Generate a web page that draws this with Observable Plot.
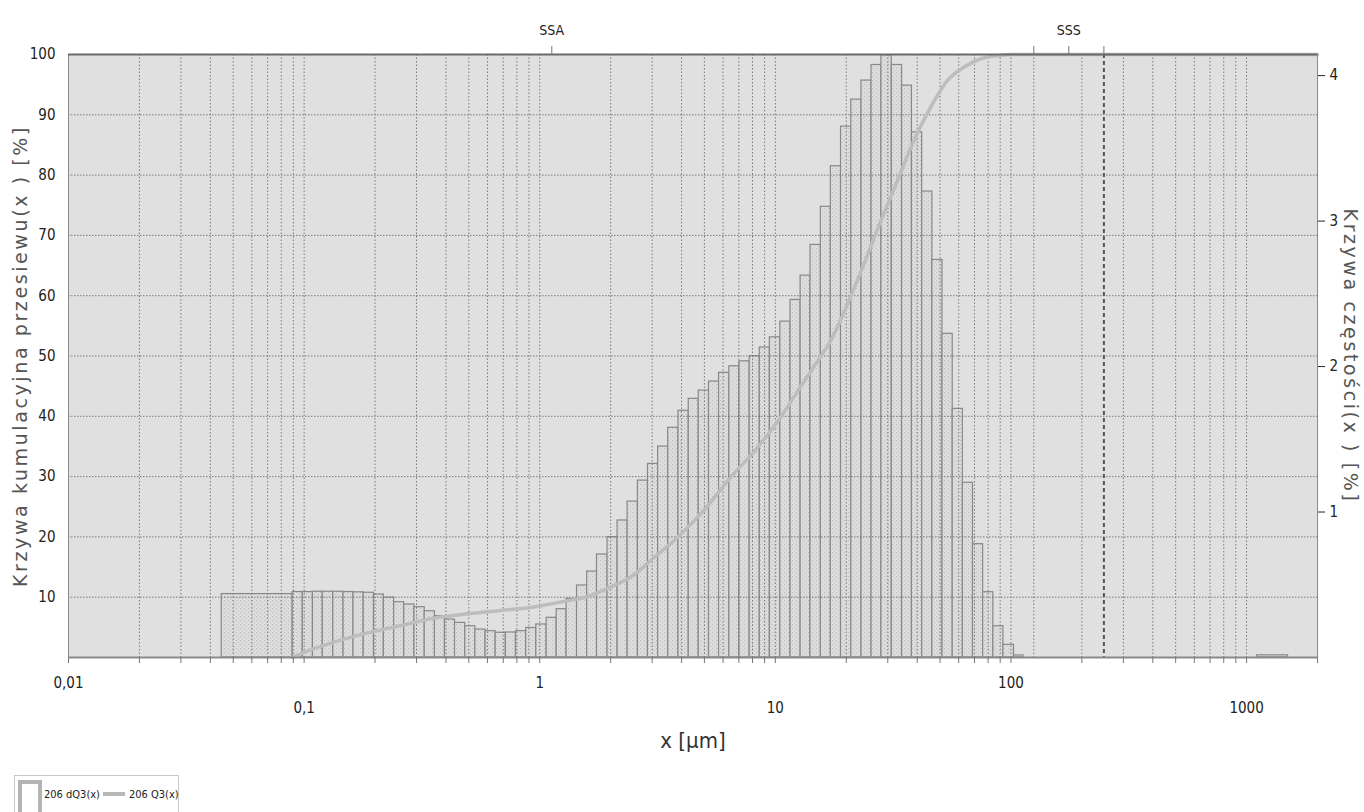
<!DOCTYPE html>
<html>
<head>
<meta charset="utf-8">
<script src="https://cdn.jsdelivr.net/npm/d3@7"></script>
<script src="https://cdn.jsdelivr.net/npm/@observablehq/plot@0.6"></script>
<style>
  html, body { margin: 0; padding: 0; background: #fff; }
  #wrap { position: relative; width: 1364px; height: 812px; overflow: hidden; }
  #legend { position: absolute; left: 14px; top: 775px; width: 165px; height: 44px;
            border: 1px solid #c8c8c8; box-sizing: border-box; background: #fff; }
  #legend text { font-family: "DejaVu Sans Condensed", "Liberation Sans Narrow", sans-serif; font-stretch: condensed; font-size: 11px; fill: #222; }
  svg text { font-stretch: condensed; }
  .ttl text { font-stretch: normal; letter-spacing: 2.6px; }
</style>
</head>
<body>
<div id="wrap">
  <div id="chart"></div>
  <div id="legend"></div>
</div>
<script>
// ---- data ----
// bin edges in µm (first bin is the wide one 0.0447–0.0894)
const binEdges = [0.0447, 0.0894, 0.0987, 0.109, 0.120, 0.133, 0.147, 0.162, 0.179, 0.198, 0.218,
  0.241, 0.266, 0.294, 0.325, 0.359, 0.396, 0.437, 0.483, 0.533, 0.589, 0.650, 0.718, 0.793,
  0.876, 0.967, 1.07, 1.18, 1.30, 1.44, 1.59, 1.75, 1.94, 2.14, 2.36, 2.61, 2.88, 3.18, 3.51,
  3.88, 4.29, 4.73, 5.23, 5.77, 6.38, 7.04, 7.78, 8.59, 9.48, 10.5, 11.6, 12.8, 14.1, 15.6,
  17.2, 19.0, 21.0, 23.2, 25.6, 28.2, 31.2, 34.5, 38.0, 42.0, 46.4, 51.2, 56.6, 62.5, 69.0,
  76.2, 84.2, 92.9, 103, 113];
// frequency dQ3 per bin, % (right axis)
const dQ3 = [0.436,
  0.450, 0.450, 0.452, 0.452, 0.452, 0.450, 0.448, 0.445, 0.433, 0.412,
  0.380, 0.364, 0.346, 0.318, 0.284, 0.261, 0.238, 0.215, 0.192, 0.181,
  0.170, 0.172, 0.181, 0.203, 0.227, 0.273, 0.332, 0.403, 0.495, 0.591,
  0.708, 0.827, 0.942, 1.072, 1.216, 1.331, 1.450, 1.579, 1.696, 1.778,
  1.835, 1.897, 1.957, 2.002, 2.036, 2.071, 2.131, 2.201, 2.309, 2.458,
  2.625, 2.836, 3.098, 3.377, 3.649, 3.835, 3.966, 4.073, 4.140, 4.073,
  3.931, 3.610, 3.203, 2.733, 2.225, 1.709, 1.201, 0.779, 0.449, 0.215,
  0.087, 0.014];
const tailBin = [1108, 1500];
const tailValue = 0.015;

// cumulative curve Q3, % (left axis)
const curveX  = [0.0894, 0.0995, 0.133, 0.192, 0.257, 0.355, 0.509, 0.683, 0.916, 1.26, 1.60,
  2.00, 2.43, 2.96, 3.86, 4.97, 6.47, 8.43, 10.3, 12.5, 15.2, 17.2, 20.3, 23.8, 28.1, 33.0,
  38.7, 45.7, 53.8, 63.1, 74.6, 87.8, 103, 2000];
const curveQ3 = [0, 0.8, 2.5, 4.2, 5.3, 6.5, 7.3, 7.8, 8.3, 9.3, 10.1,
  11.7, 13.3, 16.1, 20.0, 24.4, 29.9, 34.9, 39.3, 44.3, 49.3, 52.6, 58.7, 65.3, 72.5, 79.1,
  85.7, 91.3, 95.7, 97.9, 99.3, 99.8, 100, 100];

// ticks and labels
const leftTicks = [10, 20, 30, 40, 50, 60, 70, 80, 90, 100];
const leftGrid = [10, 20, 30, 40, 50, 60, 70, 80, 90];
const rightTicks = [1, 2, 3, 4];
const xLabelsRow1 = [0.01, 1, 100];
const xLabelsRow2 = [0.1, 10, 1000];
const extraGridX = [125];
const dashedMarker = [248];
const topTicks = [1.125, 125, 176, 248];
const topLabels = [{x: 1.125, label: "SSA"}, {x: 176, label: "SSS"}];
const leftTitle = "Krzywa kumulacyjna przesiewu(x ) [%]";
const rightTitle = "Krzywa częstości(x ) [%]";
const xTitle = "x [µm]";

// right axis value 4 sits at left-axis value 96.5
const R = 96.5 / 4;

const bars = dQ3.map((v, i) => ({x1: binEdges[i], x2: binEdges[i + 1], v}));
bars.push({x1: tailBin[0], x2: tailBin[1], v: tailValue});
const curve = curveX.map((x, i) => ({x, q: curveQ3[i]}));

const narrow = "'DejaVu Sans Condensed', 'Liberation Sans Narrow', 'DejaVu Sans', sans-serif";
const fmt = d => String(d).replace(".", ",");

const chart = Plot.plot({
  width: 1364,
  height: 772,
  marginTop: 54,
  marginBottom: 115,
  marginLeft: 68,
  marginRight: 47,
  style: {fontFamily: narrow, fontSize: "14px", color: "#222", background: "#fff"},
  x: {type: "log", domain: [0.01, 2000]},
  y: {domain: [0, 100]},
  marks: [
    Plot.frame({fill: "#e0e0e0", stroke: null}),
    Plot.rect(bars, {x1: "x1", x2: "x2", y1: 0, y2: d => d.v * R,
      fill: "url(#dots)", stroke: "#888", strokeWidth: 1.2}),
    Plot.gridX({stroke: "#6f6f6f", strokeOpacity: 0.9, strokeDasharray: "1.5,2"}),
    Plot.ruleX(extraGridX, {stroke: "#6f6f6f", strokeOpacity: 0.9, strokeDasharray: "1.5,2"}),
    Plot.gridY(leftGrid, {stroke: "#6f6f6f", strokeOpacity: 0.9, strokeDasharray: "1.5,1.5"}),
    Plot.line(curve, {x: "x", y: "q", stroke: "#bdbdbd", strokeWidth: 3.5, curve: "monotone-x"}),
    Plot.ruleX(dashedMarker, {stroke: "#555", strokeWidth: 2, strokeDasharray: "4,3"}),
    Plot.frame({stroke: "#8a8a8a"}),
    Plot.ruleY([100], {stroke: "#6a6a6a", strokeWidth: 2}),
    Plot.ruleY([0], {stroke: "#8a8a8a", strokeWidth: 2}),
    Plot.axisY(leftTicks, {anchor: "left", tickSize: 0, tickPadding: 13, label: null, fontSize: 15}),
    Plot.axisY(rightTicks.map(v => v * R), {anchor: "right", tickSize: 7, tickPadding: 5,
      tickFormat: d => String(Math.round(d / R)), label: null, fontSize: 15}),
    Plot.axisX({tickSize: 6, tickFormat: () => "", label: null, stroke: "#777"}),
    Plot.axisX(xLabelsRow1, {tickSize: 0, tickPadding: 20, tickFormat: fmt, label: null, fontSize: 15}),
    Plot.axisX(xLabelsRow2, {tickSize: 0, tickPadding: 45, tickFormat: fmt, label: null, fontSize: 15}),
    Plot.axisX(topTicks, {anchor: "top", tickSize: 9, tickFormat: () => "", label: null, stroke: "#777"}),
    Plot.text(topLabels, {x: "x", text: "label", frameAnchor: "top", dy: -29, fontSize: 14, fill: "#222"}),
    Plot.text([xTitle], {text: d => d, frameAnchor: "bottom", dy: 90, fontSize: 22, fill: "#333"}),
    Plot.text([leftTitle], {text: d => d, frameAnchor: "left", textAnchor: "middle", dx: -48, rotate: -90,
      fontSize: 19, fontFamily: "DejaVu Sans", fill: "#555", className: "ttl"}),
    Plot.text([rightTitle], {text: d => d, frameAnchor: "right", textAnchor: "middle", dx: 33, rotate: 90,
      fontSize: 19, fontFamily: "DejaVu Sans", fill: "#555", className: "ttl"})
  ]
});

// dotted texture for the bars
const defs = d3.select(chart).insert("defs", ":first-child");
const pat = defs.append("pattern").attr("id", "dots").attr("patternUnits", "userSpaceOnUse")
  .attr("width", 4).attr("height", 4);
pat.append("rect").attr("width", 4).attr("height", 4).attr("fill", "#dcdcdc");
pat.append("rect").attr("x", 0).attr("y", 0).attr("width", 1).attr("height", 1).attr("fill", "#bdbdbd");
pat.append("rect").attr("x", 2).attr("y", 2).attr("width", 1).attr("height", 1).attr("fill", "#c6c6c6");

document.getElementById("chart").appendChild(chart);

// legend
const legend = d3.select("#legend").append("svg").attr("width", 165).attr("height", 44);
legend.append("path").attr("d", "M5,44 V6 H25 V44").attr("fill", "none").attr("stroke", "#b4b4b4").attr("stroke-width", 4);
legend.append("text").attr("x", 29).attr("y", 22).text("206 dQ3(x)");
legend.append("line").attr("x1", 88).attr("x2", 110).attr("y1", 18).attr("y2", 18)
  .attr("stroke", "#b8b8b8").attr("stroke-width", 4);
legend.append("text").attr("x", 114).attr("y", 22).text("206 Q3(x)");
</script>
</body>
</html>
